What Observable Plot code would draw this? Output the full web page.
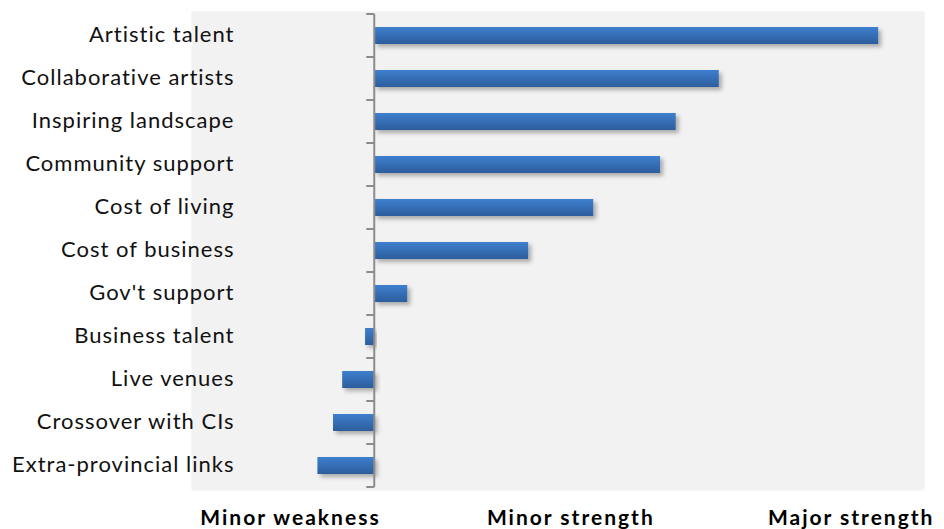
<!DOCTYPE html>
<html>
<head>
<meta charset="utf-8">
<script src="https://cdn.jsdelivr.net/npm/d3@7"></script>
<script src="https://cdn.jsdelivr.net/npm/@observablehq/plot@0.6"></script>
<style>
  html, body { margin: 0; padding: 0; background: #fff; }
  #chart svg { display: block; }
</style>
</head>
<body>
<div id="chart"></div>
<script>
const categories = [
  "Artistic talent", "Collaborative artists", "Inspiring landscape", "Community support",
  "Cost of living", "Cost of business", "Gov't support", "Business talent",
  "Live venues", "Crossover with CIs", "Extra-provincial links"
];
const values = [2.75, 1.88, 1.645, 1.56, 1.195, 0.84, 0.18, -0.05, -0.175, -0.225, -0.31];
const tickLabels = ["Minor weakness", "Minor strength", "Major strength"];
const tickValues = [-0.46, 1.07, 2.6];

const data = categories.map((c, i) => ({category: c, value: values[i]}));
const ticks = tickLabels.map((t, i) => ({label: t, x: tickValues[i]}));

const defsMark = () => {
  const g = d3.create("svg:g");
  const defs = g.append("defs");
  const grad = defs.append("linearGradient").attr("id", "barGrad")
    .attr("x1", 0).attr("y1", 0).attr("x2", 0).attr("y2", 1);
  grad.append("stop").attr("offset", "0%").attr("stop-color", "#3e7fce");
  grad.append("stop").attr("offset", "100%").attr("stop-color", "#2c5d9c");
  const f = defs.append("filter").attr("id", "barShadow")
    .attr("x", "-10%").attr("y", "-30%").attr("width", "130%").attr("height", "190%");
  f.append("feDropShadow").attr("dx", 3).attr("dy", 3).attr("stdDeviation", 2)
    .attr("flood-color", "#000").attr("flood-opacity", 0.3);
  return g.node();
};

const boundaryTicks = (index, scales) => {
  const y = scales.y, x = scales.x;
  const step = y.step(), bw = y.bandwidth();
  const x0 = x(0);
  const g = d3.create("svg:g").attr("stroke", "#8c8c8c").attr("stroke-width", 2);
  const dom = y.domain();
  const ys = dom.map(d => y(d) - (step - bw) / 2);
  ys.push(y(dom[dom.length - 1]) + bw + (step - bw) / 2);
  for (const yy of ys) {
    g.append("line").attr("x1", x0 - 8).attr("x2", x0).attr("y1", yy).attr("y2", yy);
  }
  g.append("line").attr("x1", x0).attr("x2", x0).attr("y1", ys[0]).attr("y2", ys[ys.length - 1]);
  return g.node();
};

const chart = Plot.plot({
  width: 944,
  height: 529,
  marginLeft: 191,
  marginRight: 20,
  marginTop: 11,
  marginBottom: 39,
  style: {fontFamily: "Lato, 'Open Sans', sans-serif", background: "#fff"},
  x: {domain: [-1, 3], axis: null},
  y: {domain: categories, axis: null, paddingInner: 0.6, paddingOuter: 0.3},
  marks: [
    defsMark,
    Plot.frame({fill: "#f2f2f2", stroke: "none"}),
    Plot.barX(data, {x: "value", y: "category", fill: "url(#barGrad)"}),
    boundaryTicks,
    Plot.text(categories, {y: d => d, frameAnchor: "left", textAnchor: "end", dx: 43, dy: -1, fontSize: 22, fill: "#111", className: "catlab"}),
    Plot.text(ticks, {x: "x", text: "label", frameAnchor: "bottom", dy: 34, fontSize: 21, fontWeight: "bold", fill: "#000", className: "xlab"})
  ]
});
d3.select(chart).selectAll("g[aria-label='bar'] rect").attr("filter", "url(#barShadow)");
d3.select(chart).selectAll(".catlab text").style("letter-spacing", "1px");
d3.select(chart).selectAll(".xlab text").style("letter-spacing", "2px");
document.getElementById("chart").appendChild(chart);
</script>
</body>
</html>
